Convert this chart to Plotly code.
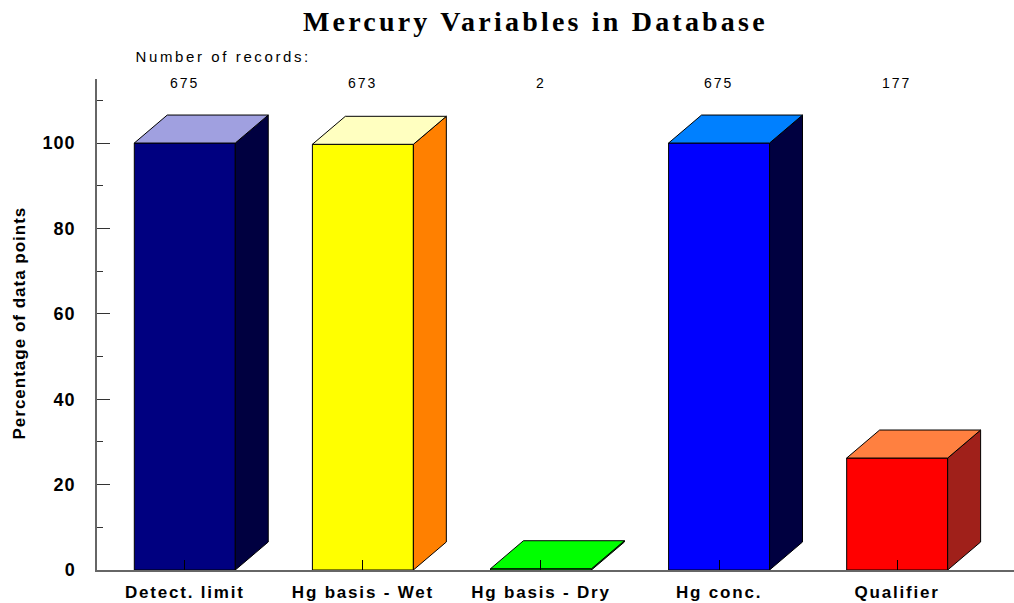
import plotly.graph_objects as go

# ---- data -------------------------------------------------------------
categories = ["Detect. limit", "Hg basis - Wet", "Hg basis - Dry", "Hg conc.", "Qualifier"]
record_counts = [675, 673, 2, 675, 177]
total_records = 675
percentages = [n / total_records * 100 for n in record_counts]

front_colors = ["#000080", "#FFFF00", "#00FF00", "#0000FF", "#FF0000"]
top_colors = ["#A0A0E0", "#FFFFC0", "#00FF00", "#0080FF", "#FF8040"]
side_colors = ["#000040", "#FF8000", "#00A000", "#000040", "#A0201A"]

y_major = [0, 20, 40, 60, 80, 100]
y_minor = [10, 30, 50, 70, 90, 110]

# ---- 3-D box geometry (in data units) ----------------------------------
half_w = 0.2835     # half the front-face width, category units
depth_x = 0.185     # oblique depth, category units
depth_y = 6.56      # oblique depth, percentage units

fig = go.Figure()


def face(xs, ys, color):
    fig.add_trace(go.Scatter(
        x=xs + [xs[0]], y=ys + [ys[0]], mode="lines", fill="toself",
        fillcolor=color, line=dict(color="black", width=1),
        hoverinfo="skip", showlegend=False))


for i, v in enumerate(percentages):
    x0, x1 = i - half_w, i + half_w
    # front
    face([x0, x1, x1, x0], [0, 0, v, v], front_colors[i])
    # right side
    face([x1, x1 + depth_x, x1 + depth_x, x1],
         [0, depth_y, v + depth_y, v], side_colors[i])
    # top
    face([x0, x1, x1 + depth_x, x0 + depth_x],
         [v, v, v + depth_y, v + depth_y], top_colors[i])

# record counts above each bar
for i, n in enumerate(record_counts):
    fig.add_annotation(x=i, y=114, xref="x", yref="y", text=str(n),
                       showarrow=False, yanchor="middle",
                       font=dict(family="Liberation Sans", size=14, color="black"))

fig.add_annotation(x=(223 - 97) / 917, y=1.0468, xref="paper", yref="paper",
                   text="Number of records:", showarrow=False,
                   xanchor="center", yanchor="middle",
                   font=dict(family="Liberation Sans", size=15, color="black"))

fig.add_annotation(x=-78 / 917, y=(570 - 323) / 491, xref="paper", yref="paper",
                   text="Percentage of data points", textangle=-90,
                   showarrow=False, xanchor="center", yanchor="middle",
                   font=dict(family="Liberation Sans", size=17, color="black",
                             weight="bold"))

fig.update_layout(
    width=1014, height=603,
    margin=dict(l=97, r=0, t=79, b=33),
    paper_bgcolor="white", plot_bgcolor="white",
    title=dict(text="Mercury Variables in Database",
               x=0.528, xanchor="center", y=1 - 21 / 603, yanchor="middle",
               yref="container",
               font=dict(family="Liberation Serif", size=28, color="black",
                         weight="bold")),
    xaxis=dict(range=[-0.493, 4.656], tickvals=list(range(len(categories))),
               ticktext=categories, ticks="inside", ticklen=10,
               tickcolor="black", tickwidth=1, automargin=False,
               showline=True, linecolor="#666666", linewidth=1.5,
               showgrid=False, zeroline=False, ticklabelstandoff=6,
               tickfont=dict(family="Liberation Sans", size=17,
                             color="black", weight="bold")),
    yaxis=dict(range=[0, 115], tickvals=y_major, ticks="inside", ticklen=13,
               tickcolor="#333333", tickwidth=1, automargin=False,
               minor=dict(tickvals=y_minor, ticks="inside", ticklen=6,
                          tickcolor="#333333", tickwidth=1, showgrid=False),
               showline=True, linecolor="#666666", linewidth=1.5,
               showgrid=False, zeroline=False, ticklabelstandoff=16,
               tickfont=dict(family="Liberation Sans", size=18,
                             color="black", weight="bold")),
)

# widen the letter spacing of the chart's texts
spacing_js = """
var gd = document.getElementById('{plot_id}');
function spaceOut() {
  gd.querySelectorAll('text').forEach(function (t) {
    var s = t.textContent;
    var sp = null;
    if (t.classList.contains('gtitle')) sp = 3.2;
    else if (t.closest('.xtick')) sp = 1.8;
    else if (t.closest('.ytick')) sp = 1.0;
    else if (s === 'Number of records:') sp = 2.6;
    else if (s === 'Percentage of data points') sp = 1.0;
    else if (/^[0-9]+$/.test(s)) sp = 2.0;
    if (sp !== null) t.setAttribute('letter-spacing', sp + 'px');
  });
}
spaceOut();
"""

fig.write_html("out.html", post_script=spacing_js)
